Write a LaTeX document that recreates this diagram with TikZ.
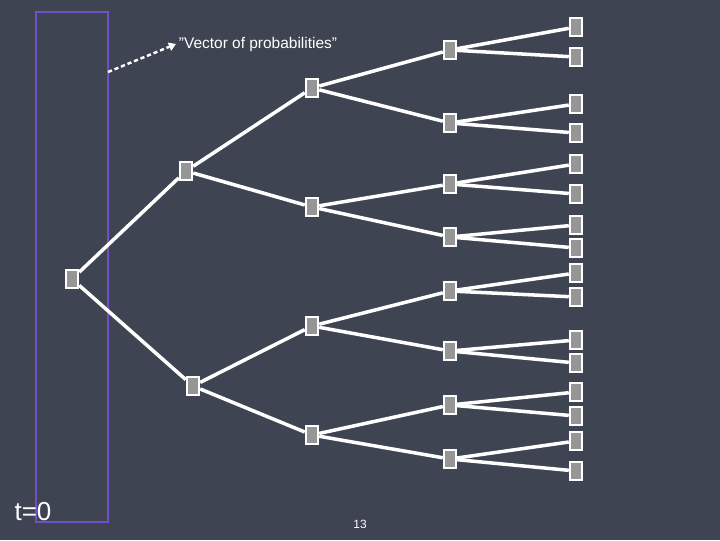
\documentclass[tikz,border=0pt]{standalone}
\usepackage{fontspec}
\setmainfont{Liberation Sans}
\usetikzlibrary{positioning, arrows.meta}
\definecolor{board}{RGB}{62, 68, 82}
\definecolor{boxgray}{RGB}{150, 150, 150}
\definecolor{framepurple}{RGB}{112, 80, 200}

\begin{document}
\begin{tikzpicture}[
    x=0.05cm, y=-0.05cm,
    state/.style={rectangle, draw=white, fill=boxgray, line width=3.5pt, minimum width=0.6cm, minimum height=0.9cm, inner sep=0pt},
    branch/.style={draw=white, line width=5pt},
    lbl/.style={text=white, inner sep=0pt}
]
    \fill[board] (0,0) rectangle (720,540);
    \useasboundingbox (0,0) rectangle (720,540);

    \draw[framepurple, line width=3pt] (36,12) rectangle (108,522);

    % root and first two levels
    \node[state] (r) at (72,279) {};
    \node[state] (a) at (186,171) {};
    \node[state] (b) at (193,386) {};
    \node[state] (aa) at (312,88) {};
    \node[state] (ab) at (312,207) {};
    \node[state] (ba) at (312,326) {};
    \node[state] (bb) at (312,435) {};

    % third level
    \foreach \n/\y in {1/50, 2/123, 3/184, 4/237, 5/291, 6/351, 7/405, 8/459}
        \node[state] (m\n) at (450,\y) {};

    % leaves
    \foreach \n/\y in {1/27, 2/57, 3/104, 4/133, 5/164, 6/194, 7/225, 8/248,
                       9/273, 10/297, 11/340, 12/363, 13/392, 14/416, 15/441, 16/471}
        \node[state] (l\n) at (576,\y) {};

    \draw[branch] (r) -- (a);
    \draw[branch] (r) -- (b);
    \draw[branch] (a) -- (aa);
    \draw[branch] (a) -- (ab);
    \draw[branch] (b) -- (ba);
    \draw[branch] (b) -- (bb);
    \draw[branch] (aa) -- (m1);
    \draw[branch] (aa) -- (m2);
    \draw[branch] (ab) -- (m3);
    \draw[branch] (ab) -- (m4);
    \draw[branch] (ba) -- (m5);
    \draw[branch] (ba) -- (m6);
    \draw[branch] (bb) -- (m7);
    \draw[branch] (bb) -- (m8);
    \foreach \m [evaluate=\m as \p using int(2*\m-1), evaluate=\m as \q using int(2*\m)] in {1,...,8} {
        \draw[branch] (m\m) -- (l\p);
        \draw[branch] (m\m) -- (l\q);
    }

    % labels
    \node[lbl, font=\fontsize{22}{24}\selectfont] (vec) at (258,44) {"Vector of probabilities"};
    \coordinate (tail) at (108,72);
    \draw[white, line width=3.5pt, dash pattern=on 6pt off 4pt, -{Triangle[length=10pt, width=12pt]}] (tail) -- ([xshift=-4pt]vec.west);
    \node[lbl, font=\fontsize{37}{40}\selectfont] (t0) at (33,512) {t=0};
    \node[lbl, font=\fontsize{17}{19}\selectfont] (pg) at (360,524) {13};
\end{tikzpicture}
\end{document}
